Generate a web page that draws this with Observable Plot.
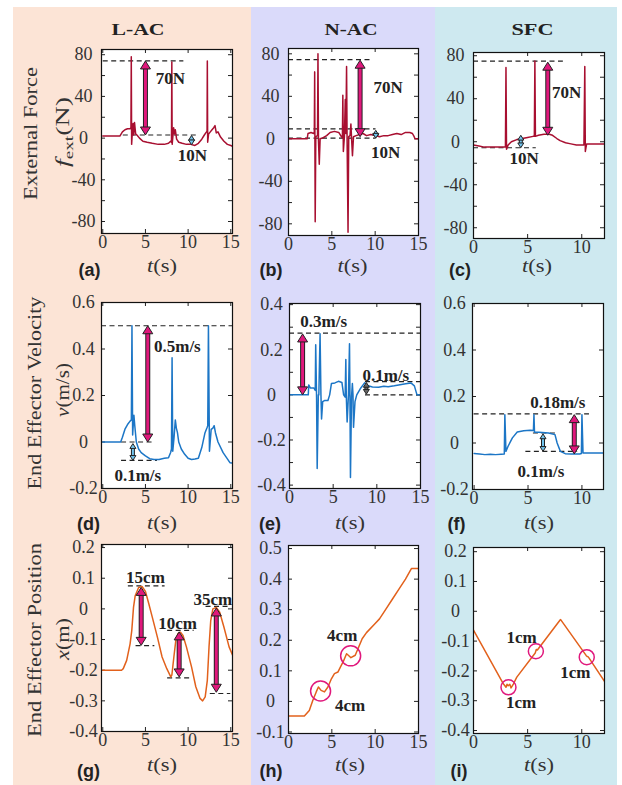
<!DOCTYPE html>
<html><head><meta charset="utf-8">
<script src="https://cdn.jsdelivr.net/npm/d3@7"></script>
<script src="https://cdn.jsdelivr.net/npm/@observablehq/plot@0.6"></script>
<style>
html,body{margin:0;padding:0;background:#fff;}
#fig{position:relative;width:622px;height:785px;overflow:hidden;background:#fff;}
.bg{position:absolute;top:7px;height:778px;}
.pl{position:absolute;}
#ov{position:absolute;left:0;top:0;pointer-events:none;}
</style></head><body><div id="fig"></div>
<script>
// ---------- labels ----------
const colTitles = ["L-AC", "N-AC", "SFC"];
const rowTitles = ["External Force", "End Effector Velocity", "End Effector Position"];
const panelLetters = ["(a)","(b)","(c)","(d)","(e)","(f)","(g)","(h)","(i)"];

// ---------- ticks ----------
const tTicks15 = [0, 5, 10, 15];
const tTicks12 = [0, 5, 10];
const forceTicks = [-80, -40, 0, 40, 80];
const forceMinor = [-80, -60, -40, -20, 0, 20, 40, 60, 80];
const velTicks6 = [-0.2, 0, 0.2, 0.4, 0.6];
const velTicks4 = [-0.4, -0.2, 0, 0.2, 0.4];
const velMinor4 = [-0.4, -0.3, -0.2, -0.1, 0, 0.1, 0.2, 0.3, 0.4];
const posTicks2 = [-0.4, -0.3, -0.2, -0.1, 0, 0.1, 0.2];
const posTicks5 = [-0.1, 0, 0.1, 0.2, 0.3, 0.4, 0.5];

// ---------- series [t (s), value] ----------
const forceLAC = [[0,2],[2.0,2],[2.3,6],[2.6,8],[2.9,9],[3.2,9],[3.30,10],[3.34,78],[3.38,-6],[3.46,5],[3.55,14],[3.62,3],[3.72,15],[3.85,4],[4.0,3],[4.3,0],[4.7,-3],[5.2,-4],[5.8,-5],[6.5,-6],[7.2,-6],[7.7,-5],[7.95,-3],[8.05,-4],[8.09,73],[8.13,-6],[8.22,2],[8.30,10],[8.40,4],[8.50,8],[8.65,-1],[8.9,-4],[9.3,-5],[9.8,-6],[10.3,-6],[10.8,-7],[11.2,-5],[11.6,-1],[11.9,3],[12.15,6],[12.22,7],[12.25,74],[12.29,-4],[12.40,4],[12.6,6],[12.8,8],[13.0,10],[13.15,12],[13.3,5],[13.5,6],[13.8,1],[14.2,-3],[14.6,-6],[15.0,-7],[15.2,-8]];
const forceNAC = [[0,0],[2.15,0],[2.25,5],[2.6,6],[2.9,5],[2.98,6],[3.02,63],[3.08,-78],[3.15,2],[3.35,3],[3.40,80],[3.46,-2],[3.55,-24],[3.65,0],[4.0,1],[4.4,3],[4.8,6],[5.3,7],[5.8,6],[6.1,2],[6.22,1],[6.27,41],[6.33,-12],[6.45,2],[6.55,37],[6.62,5],[6.70,68],[6.76,0],[6.87,-88],[6.95,2],[7.1,3],[7.2,14],[7.28,0],[7.38,-16],[7.5,2],[7.8,3],[8.2,4],[8.6,5],[9.0,3],[9.5,4],[10.0,3],[10.5,2],[11.0,3],[11.5,3],[12.0,4],[12.5,5],[13.0,4],[13.5,6],[14.0,6],[14.3,5],[14.5,2],[14.6,0],[15,0]];
const forceSFC = [[0,-3],[0.5,-4],[1.0,-5],[1.5,-5],[2.0,-5],[2.5,-5],[2.95,-5],[3.0,69],[3.05,-7],[3.2,-3],[3.5,0],[4.0,2],[4.5,3],[5.0,4],[5.5,5],[5.62,5],[5.67,75],[5.72,5],[6.0,6],[6.5,7],[7.0,7],[7.3,6],[7.7,3],[8.0,1],[8.5,-1],[9.0,-2],[9.5,-3],[10.2,-3],[10.28,70],[10.33,-9],[10.45,-2],[11.0,-2],[11.5,-2],[12.1,-2]];
const velLAC = [[0,0],[2.1,0],[2.3,0.02],[2.6,0.055],[2.9,0.075],[3.2,0.09],[3.35,0.095],[3.42,0.5],[3.5,0.03],[3.58,0.08],[3.65,0.115],[3.75,0.07],[3.93,0.0],[4.2,-0.03],[4.5,-0.046],[5.0,-0.06],[5.5,-0.072],[6.0,-0.075],[6.6,-0.075],[7.2,-0.07],[7.7,-0.068],[7.95,-0.045],[8.05,-0.03],[8.12,0.362],[8.2,-0.04],[8.35,0.02],[8.5,0.095],[8.62,0.06],[8.75,0.04],[8.9,0.0],[9.2,-0.03],[9.6,-0.053],[10.0,-0.07],[10.4,-0.075],[10.8,-0.073],[11.2,-0.07],[11.6,-0.024],[11.98,0.04],[12.2,0.06],[12.3,0.07],[12.38,0.5],[12.5,-0.04],[12.7,0.054],[12.9,0.06],[13.05,0.07],[13.2,0.04],[13.5,0.0],[14.1,-0.046],[14.5,-0.067],[14.9,-0.089],[15.2,-0.09]];
const velNAC = [[0,0],[2.15,0],[2.2,0.044],[2.4,0.03],[2.8,0.03],[2.95,0.02],[3.0,0.222],[3.1,-0.01],[3.17,-0.326],[3.3,0.0],[3.36,0.0],[3.5,0.271],[3.6,0.0],[3.67,-0.107],[3.8,-0.03],[4.0,-0.025],[4.4,-0.025],[4.6,0.0],[4.8,0.05],[5.2,0.053],[5.6,0.06],[6.0,0.055],[6.2,0.0],[6.37,-0.01],[6.45,0.157],[6.5,0.0],[6.6,-0.12],[6.75,0.0],[6.87,0.227],[6.92,0.0],[6.98,-0.366],[7.1,-0.01],[7.2,0.05],[7.27,0.0],[7.33,-0.144],[7.5,-0.03],[7.7,0.0],[8.1,0.027],[8.6,0.053],[9.0,0.04],[9.5,0.035],[10.2,0.034],[10.8,0.038],[11.3,0.036],[12.0,0.04],[12.5,0.044],[13.3,0.049],[13.9,0.053],[14.3,0.04],[14.6,0.0],[15,0]];
const velSFC = [[0,-0.045],[0.5,-0.047],[1.0,-0.05],[1.5,-0.048],[2.0,-0.05],[2.5,-0.048],[2.8,-0.047],[2.85,0.122],[2.95,-0.036],[3.15,-0.014],[3.55,0.022],[4.0,0.047],[4.6,0.053],[5.2,0.055],[5.5,0.054],[5.55,0.122],[5.6,0.046],[6.0,0.046],[6.9,0.043],[7.5,0.036],[7.7,0.0],[8.0,-0.036],[8.45,-0.046],[9.0,-0.047],[9.8,-0.047],[9.95,-0.045],[10.0,0.122],[10.1,-0.043],[10.55,-0.043],[11.6,-0.043],[12.0,-0.043]];
const posLAC = [[0,-0.2],[2.2,-0.2],[2.4,-0.195],[2.8,-0.168],[3.2,-0.114],[3.4,-0.07],[3.6,0.005],[3.8,0.043],[4.2,0.07],[4.6,0.073],[5.0,0.057],[5.4,0.016],[5.8,-0.027],[6.4,-0.092],[6.95,-0.157],[7.5,-0.195],[7.97,-0.222],[8.1,-0.215],[8.33,-0.157],[8.56,-0.103],[8.8,-0.081],[9.1,-0.076],[9.4,-0.087],[9.8,-0.124],[10.4,-0.189],[10.9,-0.254],[11.4,-0.292],[11.7,-0.3],[12.0,-0.287],[12.25,-0.233],[12.45,-0.124],[12.65,-0.038],[12.9,0],[13.3,0.005],[13.7,-0.011],[14.2,-0.06],[14.8,-0.124],[15.2,-0.15]];
const posNAC = [[0,-0.048],[1.83,-0.048],[2.4,-0.03],[2.8,0.003],[3.2,0.031],[3.45,0.047],[3.76,0.036],[4.15,0.031],[4.55,0.047],[4.95,0.074],[5.3,0.091],[5.7,0.096],[6.0,0.113],[6.3,0.129],[6.7,0.156],[6.9,0.151],[7.2,0.143],[7.7,0.151],[8.1,0.178],[8.5,0.205],[9.0,0.225],[10.0,0.255],[10.5,0.27],[11.2,0.30],[12.0,0.335],[12.8,0.37],[13.5,0.40],[14.0,0.425],[14.2,0.435],[15,0.435]];
const posSFC = [[0,-0.063],[2.77,-0.244],[2.9,-0.25],[3.0,-0.255],[3.1,-0.245],[3.2,-0.25],[3.35,-0.245],[3.47,-0.257],[3.68,-0.244],[4.0,-0.221],[5.7,-0.14],[5.8,-0.128],[5.9,-0.13],[8.0,-0.029],[8.05,-0.028],[10.4,-0.148],[10.5,-0.152],[10.6,-0.153],[12.15,-0.238]];

// ---------- annotations ----------
// dashed reference lines: [value, t1, t2]
const dashA = [[74,0.05,9.5],[3,2.4,11]];
const dashB = [[74.6,0,9.5],[9.4,0,10.1],[0.6,0,10.1]];
const dashC = [[75,0,8.3],[-5.6,0,5.8]];
const dashD = [[0.5,-0.15,15.2],[-0.079,2.2,6.4],[0,2.2,5.8]];
const dashE = [[0.274,0,15],[0.059,8.7,15],[0,8.7,15]];
const dashF = [[0.125,0,10.7],[0.043,5.5,7.7],[-0.036,4.8,9.6]];
const dashG = [[0.075,3.0,7.3],[-0.12,3.9,6.1],[-0.07,7.6,10.7],[-0.225,7.6,10.5],[0.008,12.1,15],[-0.276,12.6,15]];
// big arrows [t, from, to]
const bigA = [[5.0,74,3]], bigB = [[8.26,74,2]], bigC = [[6.86,74,6]];
const bigD = [[5.27,0.5,0]], bigE = [[1.5,0.27,0]], bigF = [[9.29,0.122,-0.047]];
const bigG = [[4.5,0.07,-0.119],[8.95,-0.075,-0.222],[13.3,0.003,-0.272]];
// small arrows [t, from, to]
const smallA = [[10.4,2.5,-6.4]], smallB = [[10.07,8,0.6]], smallC = [[4.37,6,-5.6]];
const smallD = [[3.53,-0.007,-0.079]], smallE = [[8.8,0.055,0.003]], smallF = [[6.39,0.039,-0.036]];
// annotation texts [t, value, text, anchor]
const textA = [[6.2,57,"70N","start"],[10.5,-17,"10N","middle"]];
const textB = [[9.8,48.5,"70N","start"],[11.2,-12.6,"10N","middle"]];
const textC = [[7.26,45.5,"70N","start"],[4.68,-16,"10N","middle"]];
const textD = [[6.0,0.41,"0.5m/s","start"],[1.36,-0.146,"0.1m/s","start"]];
const textE = [[1.23,0.323,"0.3m/s","start"],[8.35,0.086,"0.1m/s","start"]];
const textF = [[5.2,0.172,"0.18m/s","start"],[6.2,-0.122,"0.1m/s","middle"]];
const textG = [[5.0,0.103,"15cm","middle"],[8.77,-0.047,"10cm","middle"],[12.9,0.029,"35cm","middle"]];
const textH = [[6.2,0.216,"4cm","middle"],[7.1,-0.013,"4cm","middle"]];
const textI = [[4.45,-0.087,"1cm","middle"],[4.4,-0.305,"1cm","middle"],[9.4,-0.205,"1cm","middle"]];
// circles [t, value]
const circH = [[3.7,0.034],[7.17,0.149]];
const circI = [[3.23,-0.255],[5.76,-0.134],[10.46,-0.154]];

// ---------- styling ----------
const RED = "#a80f30", BLUE = "#1c76c6", ORANGE = "#e2611c";
const MAG = "#e0187c", LBLUE = "#72c4ee", DARK = "#222";
const SERIF = "'Liberation Serif', 'Times New Roman', serif";
const SANS = "'Liberation Sans', Arial, sans-serif";
const fmt = d => String(Math.round(d * 10) / 10);

const headUp = {draw(ctx, size) { const r = Math.sqrt(size / Math.PI); ctx.moveTo(0, 0); ctx.lineTo(r, r * 1.6); ctx.lineTo(-r, r * 1.6); ctx.closePath(); }};
const headDown = {draw(ctx, size) { const r = Math.sqrt(size / Math.PI); ctx.moveTo(0, 0); ctx.lineTo(r, -r * 1.6); ctx.lineTo(-r, -r * 1.6); ctx.closePath(); }};

function dblArrow(list, fill, r, shaft) {
  if (!list || !list.length) return [];
  const hi = d => Math.max(d[1], d[2]), lo = d => Math.min(d[1], d[2]);
  const common = {x1: d => d[0], x2: d => d[0], y1: hi, y2: lo, headLength: 0, inset: r * 1.6 - 1, strokeLinecap: "butt"};
  return [
    Plot.arrow(list, {...common, stroke: DARK, strokeWidth: shaft + 2}),
    Plot.arrow(list, {...common, stroke: fill, strokeWidth: shaft}),
    Plot.dot(list, {x: d => d[0], y: hi, symbol: headUp, r, fill, stroke: DARK, strokeWidth: 1}),
    Plot.dot(list, {x: d => d[0], y: lo, symbol: headDown, r, fill, stroke: DARK, strokeWidth: 1})
  ];
}

function labels(list, anchor) {
  return Plot.text(list.filter(d => d[3] === anchor), {
    x: d => d[0], y: d => d[1], text: d => d[2], textAnchor: anchor,
    fontWeight: "bold", fontSize: 17, fontFamily: SERIF, fill: DARK
  });
}

const panels = [
  {left:101, top:49, fw:131, fh:184, xd:[-0.15,15.2], yd:[-91.5,85], yt:forceTicks, ym:forceMinor, xt:tTicks15, s:forceLAC, c:RED, dash:dashA, big:bigA, small:smallA, sc:LBLUE, txt:textA},
  {left:288, top:48, fw:130, fh:187, xd:[0,15], yd:[-91,85], yt:forceTicks, ym:forceMinor, xt:tTicks15, s:forceNAC, c:RED, dash:dashB, big:bigB, small:smallB, sc:LBLUE, txt:textB},
  {left:473, top:52, fw:131, fh:186, xd:[0,12.1], yd:[-90,83], yt:forceTicks, ym:forceMinor, xt:tTicks12, s:forceSFC, c:RED, dash:dashC, big:bigC, small:smallC, sc:LBLUE, txt:textC},
  {left:101, top:302, fw:131, fh:186, xd:[-0.15,15.2], yd:[-0.2,0.6], yt:velTicks6, ym:velTicks6, xt:tTicks15, s:velLAC, c:BLUE, dash:dashD, big:bigD, small:smallD, sc:LBLUE, txt:textD},
  {left:289, top:303, fw:131, fh:185, xd:[0,15], yd:[-0.415,0.405], yt:velTicks4, ym:velMinor4, xt:tTicks15, s:velNAC, c:BLUE, dash:dashE, big:bigE, small:smallE, sc:"#666", txt:textE},
  {left:472, top:303, fw:131, fh:186, xd:[-0.15,12.0], yd:[-0.2,0.6], yt:velTicks6, ym:velTicks6, xt:tTicks12, s:velSFC, c:BLUE, dash:dashF, big:bigF, small:smallF, sc:LBLUE, txt:textF},
  {left:101, top:544, fw:131, fh:187, xd:[-0.15,15.2], yd:[-0.4,0.21], yt:posTicks2, ym:posTicks2, xt:tTicks15, s:posLAC, c:ORANGE, dash:dashG, big:bigG, small:[], sc:LBLUE, txt:textG},
  {left:288, top:545, fw:130, fh:188, xd:[0,15], yd:[-0.105,0.51], yt:posTicks5, ym:posTicks5, xt:tTicks15, s:posNAC, c:ORANGE, dash:[], big:[], small:[], sc:LBLUE, txt:textH, circ:circH, cr:10},
  {left:473, top:547, fw:131, fh:186, xd:[0,12.1], yd:[-0.41,0.214], yt:posTicks2, ym:posTicks2, xt:tTicks12, s:posSFC, c:ORANGE, dash:[], big:[], small:[], sc:LBLUE, txt:textI, circ:circI, cr:7.5}
];

const fig = document.getElementById("fig");
// column backgrounds
const bgCols = [[13, 251, "#fce4d6"], [251, 435, "#dadafa"], [435, 617, "#cee9f0"]];
bgCols.forEach(([x0, x1, col]) => {
  const d = document.createElement("div");
  d.className = "bg"; d.style.left = x0 + "px"; d.style.width = (x1 - x0) + "px"; d.style.background = col;
  fig.appendChild(d);
});

panels.forEach(p => {
  const ml = 40, mr = 10, mt = 10, mb = 30;
  const plot = Plot.plot({
    width: p.fw + ml + mr, height: p.fh + mt + mb,
    marginLeft: ml, marginRight: mr, marginTop: mt, marginBottom: mb,
    x: {domain: p.xd, axis: null}, y: {domain: p.yd, axis: null},
    style: {background: "transparent", overflow: "visible"},
    marks: [
      Plot.frame({fill: "white", stroke: "none"}),
      Plot.ruleY(p.ym, {y: d => d, insetRight: p.fw - 4, stroke: DARK}),
      Plot.ruleY(p.ym, {y: d => d, insetLeft: p.fw - 4, stroke: DARK}),
      Plot.ruleX(p.xt, {x: d => d, insetTop: p.fh - 4, stroke: DARK}),
      Plot.ruleX(p.xt, {x: d => d, insetBottom: p.fh - 4, stroke: DARK}),
      // tick labels
      Plot.text(p.yt, {y: d => d, frameAnchor: "left", dx: -18, textAnchor: "middle", text: fmt, fontSize: 18, fontFamily: SERIF, fill: "#333"}),
      Plot.text(p.xt, {x: d => d, frameAnchor: "bottom", dy: 2, lineAnchor: "top", text: fmt, fontSize: 18, fontFamily: SERIF, fill: "#333"}),
      Plot.ruleY(p.dash, {y: d => d[0], x1: d => d[1], x2: d => d[2], stroke: DARK, strokeWidth: 1.2, strokeDasharray: "5,3.5"}),
      Plot.line(p.s, {x: d => d[0], y: d => d[1], stroke: p.c, strokeWidth: 1.5, clip: true}),
      ...dblArrow(p.big, MAG, 5, 3),
      ...dblArrow(p.small, p.sc, 3, 2),
      p.circ ? Plot.dot(p.circ, {x: d => d[0], y: d => d[1], r: p.cr, stroke: MAG, strokeWidth: 1.5, fill: "none"}) : null,
      labels(p.txt, "start"),
      labels(p.txt, "middle"),
      Plot.frame({stroke: "#111", strokeWidth: 1.2})
    ].filter(Boolean)
  });
  plot.classList.add("pl");
  plot.style.left = (p.left - ml) + "px";
  plot.style.top = (p.top - mt) + "px";
  fig.appendChild(plot);
});

// overlay text
const colX = [138, 351, 532.5], colW = [53, 53, 42];
const tX = [[162, 352.5, 537], [162, 350, 539], [162, 350, 539]];
const tY = [272, 529, 771];
const letX = [[89.5, 271, 460], [88.5, 270, 456.5], [88.5, 271, 459]];
const letY = [276, 530, 777];
const rowY = [133.5, 393, 640], rowLen = [133, 193, 194], rowBase = [37, 41, 41];
let s = `<svg id="ov" xmlns="http://www.w3.org/2000/svg" width="622" height="785"><g style="font-family:${SERIF}" fill="#222">`;
colTitles.forEach((t, i) => {
  s += `<text x="${colX[i]}" y="35" font-size="17" font-weight="bold" text-anchor="middle" textLength="${colW[i]}" lengthAdjust="spacingAndGlyphs">${t}</text>`;
});
rowTitles.forEach((t, i) => {
  s += `<text transform="translate(${rowBase[i]},${rowY[i]}) rotate(-90)" font-size="19" fill="#333" text-anchor="middle" textLength="${rowLen[i]}" lengthAdjust="spacingAndGlyphs">${t}</text>`;
});
s += `<text transform="translate(69,132) rotate(-90)" font-size="19" fill="#333" text-anchor="middle" textLength="70" lengthAdjust="spacingAndGlyphs"><tspan font-style="italic">f</tspan><tspan font-size="13" dy="4">ext</tspan><tspan dy="-4">(N)</tspan></text>`;
s += `<text transform="translate(69,390) rotate(-90)" font-size="19" fill="#333" text-anchor="middle" textLength="54" lengthAdjust="spacingAndGlyphs"><tspan font-style="italic">v</tspan>(m/s)</text>`;
s += `<text transform="translate(69,639) rotate(-90)" font-size="19" fill="#333" text-anchor="middle" textLength="42" lengthAdjust="spacingAndGlyphs"><tspan font-style="italic">x</tspan>(m)</text>`;
for (let r = 0; r < 3; r++) for (let c = 0; c < 3; c++) {
  s += `<text x="${tX[r][c]}" y="${tY[r]}" font-size="18" fill="#333" text-anchor="middle" textLength="30" lengthAdjust="spacingAndGlyphs"><tspan font-style="italic">t</tspan>(s)</text>`;
  s += `<text x="${letX[r][c]}" y="${letY[r]}" style="font-family:${SANS}" font-size="18" font-weight="bold" fill="#222" text-anchor="middle">${panelLetters[r * 3 + c]}</text>`;
}
s += `</g></svg>`;
fig.insertAdjacentHTML("beforeend", s);
</script></body></html>
